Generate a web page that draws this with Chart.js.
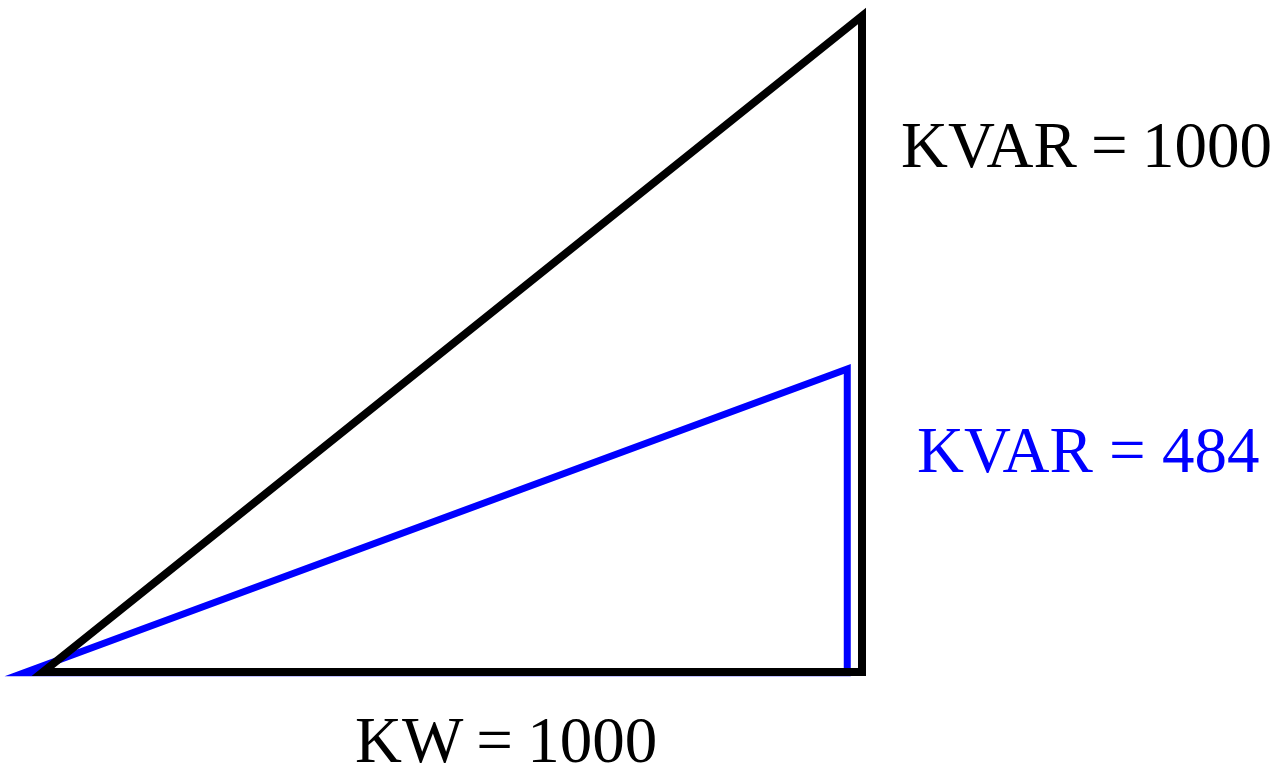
<!DOCTYPE html>
<html>
<head>
<meta charset="utf-8">
<script src="https://cdn.jsdelivr.net/npm/chart.js@4/dist/chart.umd.min.js"></script>
<style>
  html, body { margin: 0; padding: 0; background: #fff; }
  #wrap { position: relative; width: 1282px; height: 764px; overflow: hidden; }
  canvas { position: absolute; left: 0; top: 0; }
  .lbl {
    position: absolute;
    font-family: "Liberation Serif", "Times New Roman", serif;
    font-size: 65px;
    line-height: 65px;
    white-space: nowrap;
  }
</style>
</head>
<body>
<div id="wrap">
  <canvas id="triangle" width="1282" height="764"></canvas>
  <div class="lbl" id="kvarTop" style="left:901px; top:113px; color:#000; word-spacing:-2px;"></div>
  <div class="lbl" id="kvarLow" style="left:917px; top:418px; color:#0000ff;"></div>
  <div class="lbl" id="kwLabel" style="left:355px; top:708px; color:#000; word-spacing:-2px;"></div>
</div>
<script>
// power triangle before correction (KW along x, KVAR up)
const originalKW = [500, 1000, 1000, 0, 500];
const originalKVAR = [0, 0, 1000, 0, 0];

// after correction
const correctedKW = [480, 982, 982, -23, 480];
const correctedKVAR = [-1, -1, 462, -1, -1];

const labelKW = "KW = 1000";
const labelKvarOriginal = "KVAR = 1000";
const labelKvarCorrected = "KVAR = 484";

document.getElementById("kwLabel").textContent = labelKW;
document.getElementById("kvarTop").textContent = labelKvarOriginal;
document.getElementById("kvarLow").textContent = labelKvarCorrected;

const toPoints = (xs, ys) => xs.map((x, i) => ({ x: x, y: ys[i] }));

const ctx = document.getElementById("triangle").getContext("2d");

new Chart(ctx, {
    type: "scatter",
    data: {
        datasets: [
            {
                label: "Original",
                data: toPoints(originalKW, originalKVAR),
                showLine: true,
                borderColor: "#000000",
                borderWidth: 8,
                borderJoinStyle: "miter",
                borderCapStyle: "butt",
                pointRadius: 0,
                fill: false,
                tension: 0,
                clip: false
            },
            {
                label: "Corrected",
                data: toPoints(correctedKW, correctedKVAR),
                showLine: true,
                borderColor: "#0000ff",
                borderWidth: 7,
                borderJoinStyle: "miter",
                borderCapStyle: "butt",
                pointRadius: 0,
                fill: false,
                tension: 0,
                clip: false
            }
        ]
    },
    options: {
        responsive: false,
        animation: false,
        layout: {
            padding: { left: 43, right: 420, top: 16, bottom: 92 }
        },
        plugins: {
            legend: { display: false },
            tooltip: { enabled: false }
        },
        scales: {
            x: { type: "linear", min: 0, max: 1000, display: false },
            y: { type: "linear", min: 0, max: 1000, display: false }
        }
    }
});
</script>
</body>
</html>
